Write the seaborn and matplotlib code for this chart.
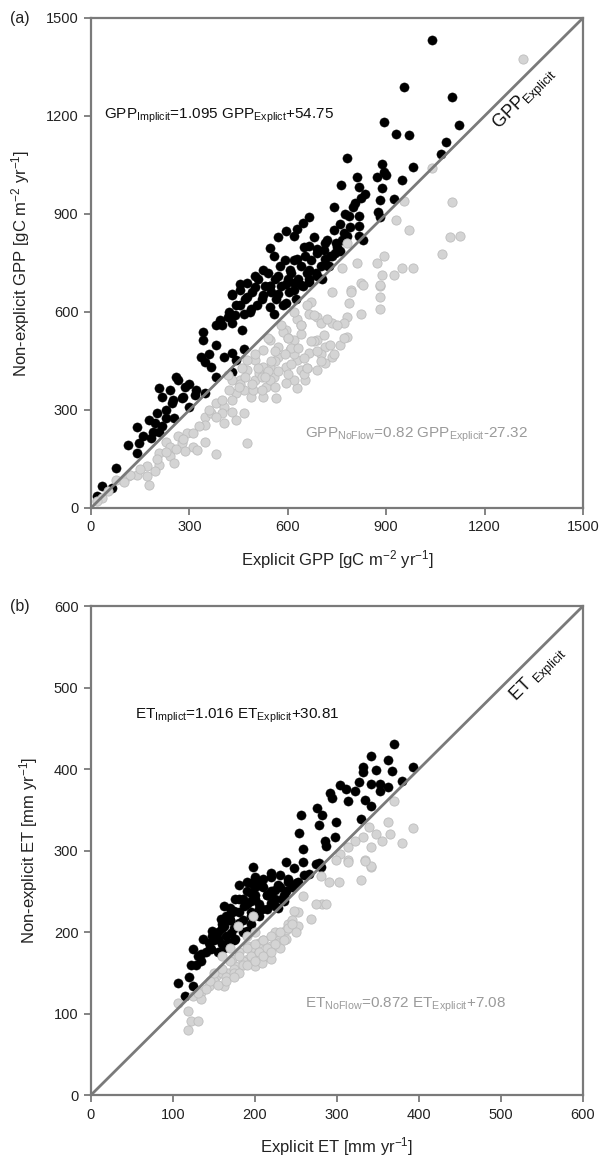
import matplotlib
matplotlib.use("Agg")
import matplotlib.pyplot as plt
import numpy as np
import pandas as pd
import seaborn as sns

# ---- data (Explicit vs. Non-explicit) ----
gpp_impl_x = [1041, 953, 1102, 894, 1121, 929, 971, 1082, 1068, 782, 888, 982, 892, 900, 871, 812,
              947, 761, 818, 835, 888, 882, 924, 824, 806, 741, 876, 788, 818, 882, 665, 647,
              629, 771, 818, 818, 782, 594, 618, 571, 829, 747, 712, 665, 688, 653, 547, 559,
              629, 712, 759, 606, 524, 500, 571, 665, 476, 547, 618, 688, 429, 453, 724, 735,
              453, 500, 547, 594, 641, 665, 429, 476, 524, 571, 618, 441, 488, 547, 594, 465,
              559, 418, 394, 429, 382, 459, 341, 341, 335, 347, 365, 406, 441, 429, 465, 382,
              429, 259, 265, 241, 288, 206, 218, 276, 318, 247, 300, 347, 200, 194, 229, 176,
              206, 141, 112, 147, 141, 182, 76, 35, 65, 18, 253, 188,
              470, 490, 510, 520, 540, 550, 560, 575, 580, 590, 600, 610, 620, 630, 640, 650,
              660, 670, 680, 690, 700, 710, 720, 730, 740, 750, 760, 775, 790, 800, 485, 505,
              530, 565, 585, 605, 625, 645, 665, 685, 705, 725, 745, 765, 440, 455, 400, 420,
              360, 380, 300, 320, 280, 230, 250, 160, 215]
gpp_impl_y = [1433, 1290, 1259, 1183, 1172, 1145, 1141, 1120, 1083, 1071, 1052, 1045, 1030, 1019, 1014, 1014,
              1004, 988, 983, 962, 978, 942, 945, 948, 933, 922, 905, 895, 895, 890, 890, 872,
              854, 843, 864, 833, 833, 848, 833, 828, 821, 812, 812, 802, 792, 771, 797, 771,
              761, 761, 786, 730, 730, 709, 709, 730, 688, 678, 688, 709, 652, 667, 740, 771,
              687, 676, 681, 687, 682, 692, 656, 646, 651, 656, 666, 620, 610, 615, 626, 595,
              595, 585, 575, 565, 560, 544, 539, 514, 463, 448, 432, 463, 453, 473, 488, 402,
              417, 402, 392, 361, 371, 366, 341, 336, 346, 321, 310, 351, 290, 259, 275, 270,
              234, 249, 193, 198, 168, 214, 122, 66, 61, 36, 275, 234,
              640, 660, 700, 640, 720, 660, 700, 740, 680, 760, 700, 720, 760, 700, 740, 800,
              720, 760, 830, 780, 740, 790, 820, 770, 850, 800, 870, 900, 860, 920, 600, 620,
              680, 640, 620, 660, 640, 680, 700, 720, 700, 740, 780, 820, 590, 620, 560, 600,
              470, 500, 380, 360, 340, 300, 330, 220, 250]

gpp_noflow_x = [1318, 1041, 1100, 953, 929, 971, 1094, 1124, 1071, 871, 894, 888, 924, 947, 982, 812,
                765, 824, 794, 882, 782, 882, 882, 882, 829, 794, 824, 782, 788, 735, 671, 665,
                688, 629, 700, 735, 771, 782, 759, 735, 712, 688, 653, 629, 594, 618, 641, 688,
                712, 665, 629, 606, 571, 547, 524, 571, 547, 594, 641, 618, 594, 559, 524, 500,
                476, 500, 535, 565, 524, 488, 465, 441, 453, 429, 418, 476, 512, 547, 382, 406,
                429, 400, 347, 365, 465, 441, 406, 347, 294, 265, 229, 241, 276, 312, 347, 324,
                288, 476, 382, 206, 241, 253, 206, 194, 171, 176, 141, 112, 76, 53, 35, 18,
                600, 620, 660, 560, 585, 640, 680, 700, 520, 455, 495, 540, 610, 650, 430,
                450, 470, 490, 510, 530, 550, 570, 590, 610, 630, 650, 670, 690, 710, 730, 750,
                560, 600, 640, 680, 620, 580, 540, 500, 460, 520, 560, 600, 660, 700, 740, 770,
                720, 660, 400, 420, 380, 360, 330, 310, 280, 260, 230, 200, 170, 150, 120, 100]
gpp_noflow_y = [1373, 1040, 938, 941, 882, 851, 828, 833, 776, 750, 771, 714, 714, 735, 735, 750,
                735, 688, 667, 678, 812, 610, 646, 682, 682, 661, 595, 585, 626, 661, 631, 595,
                585, 580, 565, 565, 565, 524, 499, 463, 443, 422, 392, 366, 544, 514, 534, 514,
                494, 473, 453, 483, 494, 514, 483, 463, 432, 432, 422, 392, 382, 402, 432, 453,
                422, 392, 371, 336, 341, 341, 361, 351, 392, 392, 407, 453, 412, 392, 320, 310,
                295, 290, 280, 290, 290, 270, 259, 254, 229, 219, 203, 188, 198, 188, 203, 178,
                173, 200, 166, 168, 158, 137, 132, 112, 97, 71, 102, 97, 86, 51, 31, 20,
                520, 470, 430, 450, 540, 560, 510, 470, 400, 380, 360, 420, 490, 410, 330,
                370, 400, 380, 430, 400, 450, 420, 470, 440, 490, 460, 510, 480, 530, 500, 560,
                480, 520, 560, 590, 600, 560, 520, 470, 430, 360, 370, 410, 430, 450, 470, 520,
                580, 620, 330, 360, 280, 300, 250, 230, 210, 180, 170, 150, 130, 120, 100, 80]

et_impl_x = [369, 393, 341, 362, 332, 348, 367, 332, 379, 327, 341, 353, 362, 304, 311, 322,
             353, 292, 294, 313, 334, 341, 329, 276, 282, 299, 278, 256, 254, 285, 297, 287,
             259, 198, 238, 259, 247, 275, 280, 278, 266, 252, 219, 200, 181, 209, 228, 238,
             219, 195, 176, 200, 219, 233, 162, 186, 209, 228, 171, 195, 158, 181, 162, 148,
             171, 190, 137, 155, 167, 144, 125, 134, 146, 162, 122, 134, 106, 120, 115, 125,
             148, 176, 205, 215, 190, 170, 185, 205, 225, 240, 160, 175, 195,
             150, 155, 160, 165, 170, 175, 180, 185, 190, 195, 200, 205, 210, 215, 220, 225,
             230, 235, 240, 245, 170, 180, 190, 200, 210, 220, 185, 195, 205, 215, 225, 235,
             160, 145, 130, 140, 128, 155, 175, 165, 195, 230, 250, 260]
et_impl_y = [431, 403, 416, 411, 402, 399, 398, 396, 385, 384, 382, 382, 378, 380, 376, 373,
             373, 370, 365, 361, 362, 355, 339, 352, 343, 335, 331, 344, 322, 312, 316, 306,
             302, 280, 286, 286, 278, 284, 280, 285, 271, 261, 273, 267, 258, 256, 258, 250,
             248, 248, 240, 240, 236, 240, 232, 232, 228, 230, 223, 220, 216, 211, 207, 201,
             199, 201, 191, 191, 187, 186, 179, 173, 179, 181, 160, 164, 137, 145, 122, 134,
             195, 191, 262, 245, 262, 215, 240, 228, 252, 262, 205, 226, 238,
             190, 200, 210, 195, 215, 205, 225, 215, 235, 225, 245, 235, 255, 245, 250, 240,
             255, 245, 265, 255, 230, 240, 250, 255, 265, 268, 200, 210, 220, 228, 232, 238,
             185, 180, 170, 175, 160, 175, 190, 220, 260, 270, 260, 270]

et_noflow_x = [369, 393, 379, 365, 362, 348, 339, 332, 322, 341, 355, 313, 304, 313, 334, 341,
               299, 341, 334, 313, 329, 302, 290, 280, 282, 275, 287, 268, 259, 252, 252, 247,
               238, 238, 228, 219, 214, 205, 200, 191, 181, 176, 200, 219, 209, 167, 153, 162,
               144, 134, 125, 106, 118, 134, 122, 131, 118, 191, 172, 228, 198, 179,
               210, 225, 240, 185, 195, 215, 160, 175, 150, 230, 245,
               145, 150, 160, 165, 170, 175, 180, 185, 190, 195, 200, 205, 210, 215, 220, 225,
               230, 235, 240, 180, 190, 200, 210, 220, 155, 165, 175, 140, 130, 245, 250, 200,
               190, 170, 160]
et_noflow_y = [361, 328, 309, 320, 335, 320, 329, 316, 312, 304, 312, 304, 296, 288, 288, 280,
               288, 281, 287, 286, 264, 261, 261, 269, 234, 234, 234, 216, 244, 224, 207, 226,
               203, 191, 195, 183, 171, 187, 175, 167, 175, 158, 158, 167, 162, 150, 146, 134,
               134, 126, 122, 113, 103, 118, 91, 91, 80, 183, 167, 187, 220, 207,
               190, 200, 210, 165, 180, 175, 150, 155, 140, 180, 215,
               140, 150, 155, 145, 165, 150, 170, 160, 180, 170, 185, 175, 190, 180, 195, 185,
               200, 190, 205, 150, 160, 165, 170, 175, 135, 140, 145, 130, 125, 210, 200, 200,
               195, 180, 170]

gpp_ticks = [0, 300, 600, 900, 1200, 1500]
et_ticks = [0, 100, 200, 300, 400, 500, 600]

# ---- style ----
sns.set_theme(style="ticks")
plt.rcParams["font.family"] = ["Liberation Sans", "DejaVu Sans"]
plt.rcParams["mathtext.fontset"] = "custom"
plt.rcParams["mathtext.rm"] = "Liberation Sans"
plt.rcParams["mathtext.it"] = "Liberation Sans"

AXIS_GREY = "#7a7a7a"
PT_GREY = "#d4d4d4"
PT_GREY_EDGE = "#bdbdbd"
TXT_GREY = "#9a9a9a"

fig = plt.figure(figsize=(6.05, 11.59), dpi=100)
ax_a = fig.add_axes([0.1504, 0.5617, 0.8132, 0.4228])
ax_b = fig.add_axes([0.1504, 0.0552, 0.8132, 0.4219])


def panel(ax, x_impl, y_impl, x_nf, y_nf, lim, ticks):
    df_i = pd.DataFrame({"x": x_impl, "y": y_impl})
    df_n = pd.DataFrame({"x": x_nf, "y": y_nf})
    sns.scatterplot(data=df_i, x="x", y="y", ax=ax, color="black", edgecolor="black",
                    linewidth=0.3, s=44, zorder=2)
    sns.scatterplot(data=df_n, x="x", y="y", ax=ax, color=PT_GREY, edgecolor=PT_GREY_EDGE,
                    linewidth=0.6, s=44, zorder=2)
    ax.plot([0, lim], [0, lim], color=AXIS_GREY, lw=2, zorder=3)
    ax.set_xlim(0, lim)
    ax.set_ylim(0, lim)
    ax.set_xticks(ticks)
    ax.set_yticks(ticks)
    for sp in ax.spines.values():
        sp.set_color(AXIS_GREY)
        sp.set_linewidth(1.6)
    ax.tick_params(axis="both", direction="out", length=5, width=1.3, color=AXIS_GREY,
                   labelsize=10.5, labelcolor="#222222", pad=4)


panel(ax_a, gpp_impl_x, gpp_impl_y, gpp_noflow_x, gpp_noflow_y, 1500, gpp_ticks)
panel(ax_b, et_impl_x, et_impl_y, et_noflow_x, et_noflow_y, 600, et_ticks)

ax_a.set_xlabel(r"Explicit GPP [gC m$^{-2}$ yr$^{-1}$]", fontsize=12, color="#222222", labelpad=10)
ax_a.set_ylabel(r"Non-explicit GPP [gC m$^{-2}$ yr$^{-1}$]", fontsize=12, color="#222222", labelpad=10)
ax_b.set_xlabel(r"Explicit ET [mm yr$^{-1}$]", fontsize=12, color="#222222", labelpad=10)
ax_b.set_ylabel(r"Non-explicit ET [mm yr$^{-1}$]", fontsize=12, color="#222222", labelpad=10)

ax_a.text(41, 1200, r"GPP$_{\mathrm{Implicit}}$=1.095 GPP$_{\mathrm{Explict}}$+54.75",
          fontsize=11, color="#111111", ha="left", va="center")
ax_a.text(653, 224, r"GPP$_{\mathrm{NoFlow}}$=0.82 GPP$_{\mathrm{Explicit}}$-27.32",
          fontsize=11, color=TXT_GREY, ha="left", va="center")
ax_a.text(1325, 1250, r"GPP$_{\mathrm{Explicit}}$", fontsize=13, color="#111111",
          rotation=45, ha="center", va="center", rotation_mode="anchor")

ax_b.text(54, 465, r"ET$_{\mathrm{Implict}}$=1.016 ET$_{\mathrm{Explicit}}$+30.81",
          fontsize=11, color="#111111", ha="left", va="center")
ax_b.text(261, 111, r"ET$_{\mathrm{NoFlow}}$=0.872 ET$_{\mathrm{Explicit}}$+7.08",
          fontsize=11, color=TXT_GREY, ha="left", va="center")
ax_b.text(546, 515, r"ET $_{\mathrm{Explicit}}$", fontsize=13, color="#111111",
          rotation=45, ha="center", va="center", rotation_mode="anchor")

fig.text(10 / 605, 1 - 18 / 1159, "(a)", fontsize=11.5, color="#222222", ha="left", va="center")
fig.text(10 / 605, 1 - 606 / 1159, "(b)", fontsize=11.5, color="#222222", ha="left", va="center")

fig.savefig("out.png", dpi=100, facecolor="white")
